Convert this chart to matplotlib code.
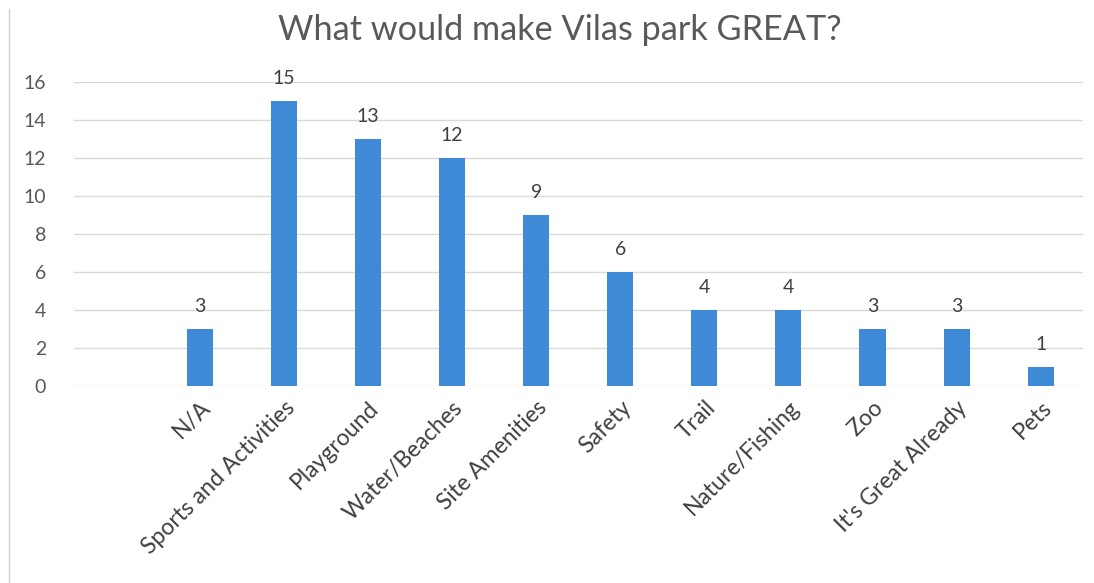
import matplotlib
matplotlib.use("Agg")
import matplotlib.pyplot as plt
from matplotlib.lines import Line2D

categories = ["", "N/A", "Sports and Activities", "Playground", "Water/Beaches",
              "Site Amenities", "Safety", "Trail", "Nature/Fishing", "Zoo",
              "It's Great Already", "Pets"]
values = [None, 3, 15, 13, 12, 9, 6, 4, 4, 3, 3, 1]
yticks = [0, 2, 4, 6, 8, 10, 12, 14, 16]
title = "What would make Vilas park GREAT?"

plt.rcParams['font.family'] = ['Lato', 'DejaVu Sans']
fig = plt.figure(figsize=(10.94, 5.83), dpi=100)
ax = fig.add_axes([0.0676, 0.338, 0.922, 0.5214])

xs = [i for i, v in enumerate(values) if v is not None]
vs = [v for v in values if v is not None]
bars = ax.bar(xs, vs, width=0.31, color="#3f8ad6", zorder=3)
for x, v in zip(xs, vs):
    ax.text(x, v + 0.75, str(v), ha="center", va="bottom", fontsize=14, color="#404040")

ax.set_xlim(-0.5, len(categories) - 0.5)
ax.set_ylim(0, 16)
ax.set_yticks(yticks)
ax.set_yticklabels([str(t) for t in yticks], fontsize=14, color="#595959")
ax.set_xticks(range(len(categories)))
ax.set_xticklabels(categories, rotation=45, ha="right", rotation_mode="anchor",
                   fontsize=16.5, color="#404040")
ax.tick_params(axis="both", length=0)
ax.tick_params(axis="y", pad=20)
ax.tick_params(axis="x", pad=8)
ax.grid(axis="y", color="#d9d9d9", linewidth=1, zorder=0)
for s in ax.spines.values():
    s.set_visible(False)

fig.text(0.512, 0.948, title, ha="center", va="center", fontsize=24.7, color="#595959")
fig.add_artist(Line2D([0.0085, 0.0085], [0.0, 0.985], transform=fig.transFigure,
                      color="#d0d0d0", linewidth=1))

fig.savefig("out.png", dpi=100)
